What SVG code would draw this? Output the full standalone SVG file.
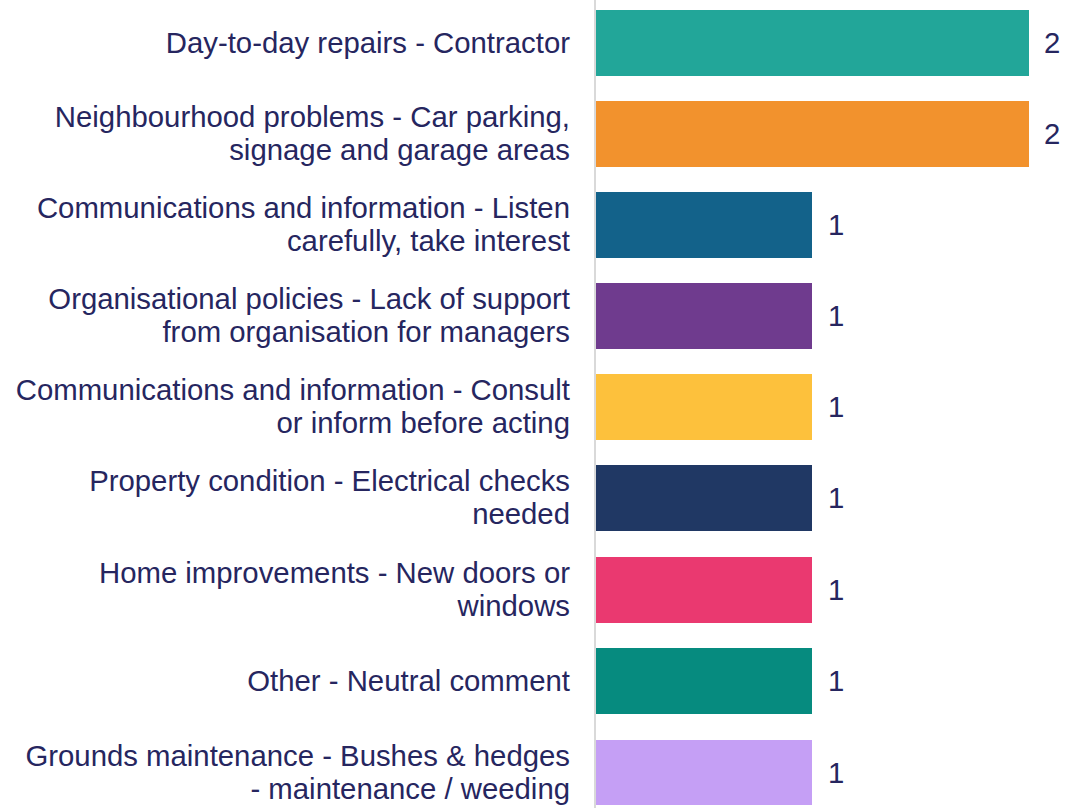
<svg xmlns="http://www.w3.org/2000/svg" width="1088" height="808" viewBox="0 0 1088 808">
<style>
.lbl{font-family:"Liberation Sans",Arial,sans-serif;font-size:29.33px;fill:#26265f;text-anchor:end}
.val{font-family:"Liberation Sans",Arial,sans-serif;font-size:29.33px;fill:#26265f}
</style>
<rect width="1088" height="808" fill="#ffffff"/>
<g id="connectors">
<line x1="595" y1="0" x2="595" y2="808" stroke="#d9d9d9" stroke-width="2"/>
</g>
<g id="bar1"><rect x="596" y="10" width="433" height="66" fill="#22a699"/><text class="lbl" x="570" y="52.5">Day-to-day repairs - Contractor</text><text class="val" x="1044" y="52.5">2</text></g>
<g id="bar2"><rect x="596" y="101" width="433" height="66" fill="#f2922d"/><text class="lbl" x="570" y="126.75">Neighbourhood problems - Car parking,</text><text class="lbl" x="570" y="160.25">signage and garage areas</text><text class="val" x="1044" y="143.5">2</text></g>
<g id="bar3"><rect x="596" y="192" width="216" height="66" fill="#13628a"/><text class="lbl" x="570" y="217.75">Communications and information - Listen</text><text class="lbl" x="570" y="251.25">carefully, take interest</text><text class="val" x="828" y="234.5">1</text></g>
<g id="bar4"><rect x="596" y="283" width="216" height="66" fill="#6f3b8e"/><text class="lbl" x="570" y="308.75">Organisational policies - Lack of support</text><text class="lbl" x="570" y="342.25">from organisation for managers</text><text class="val" x="828" y="325.5">1</text></g>
<g id="bar5"><rect x="596" y="374" width="216" height="66" fill="#fdc13c"/><text class="lbl" x="570" y="399.75">Communications and information - Consult</text><text class="lbl" x="570" y="433.25">or inform before acting</text><text class="val" x="828" y="416.5">1</text></g>
<g id="bar6"><rect x="596" y="465" width="216" height="66" fill="#203864"/><text class="lbl" x="570" y="490.75">Property condition - Electrical checks</text><text class="lbl" x="570" y="524.25">needed</text><text class="val" x="828" y="507.5">1</text></g>
<g id="bar7"><rect x="596" y="557" width="216" height="66" fill="#ea3970"/><text class="lbl" x="570" y="582.75">Home improvements - New doors or</text><text class="lbl" x="570" y="616.25">windows</text><text class="val" x="828" y="599.5">1</text></g>
<g id="bar8"><rect x="596" y="648" width="216" height="66" fill="#068b7f"/><text class="lbl" x="570" y="690.5">Other - Neutral comment</text><text class="val" x="828" y="690.5">1</text></g>
<g id="bar9"><rect x="596" y="740" width="216" height="65" fill="#c59ff5"/><text class="lbl" x="570" y="765.75">Grounds maintenance - Bushes &amp; hedges</text><text class="lbl" x="570" y="799.25">- maintenance / weeding</text><text class="val" x="828" y="782.5">1</text></g>
</svg>
